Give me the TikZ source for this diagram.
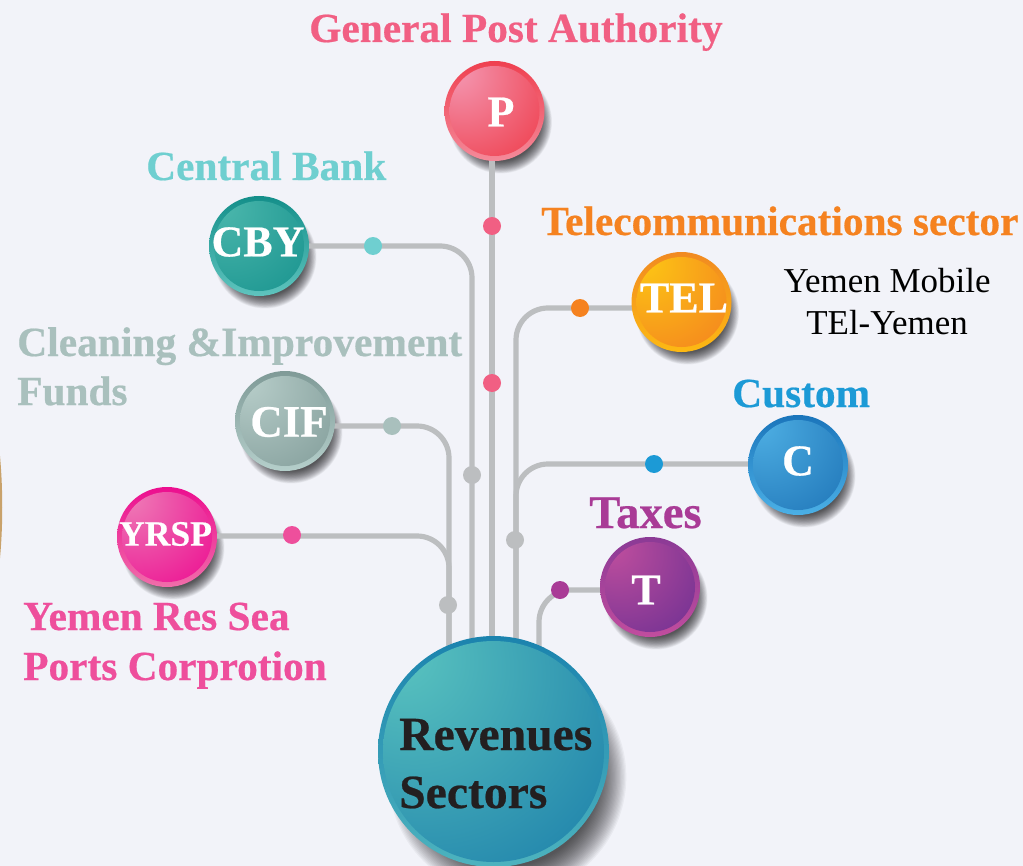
\documentclass[tikz,border=0pt]{standalone}
\usepackage{fontspec}
\setmainfont[BoldFeatures={FakeBold=0.5}]{Liberation Serif}
\usetikzlibrary{backgrounds}
\definecolor{bgc}{HTML}{F2F3F9}
\definecolor{linec}{HTML}{BCBEC0}
\definecolor{cpink}{HTML}{F15F83}
\definecolor{ccyan}{HTML}{6FCFD0}
\definecolor{corange}{HTML}{F58220}
\definecolor{cgrey}{HTML}{A9C0BD}
\definecolor{cblue}{HTML}{1C9AD6}
\definecolor{cpurple}{HTML}{A93B96}
\definecolor{cmag}{HTML}{EE4F9C}
\definecolor{ctext}{HTML}{231F20}
\definecolor{ctan}{HTML}{C9A26B}
\newcommand{\ballshade}[3]{%
  \definecolor{#1hi}{HTML}{#2}\definecolor{#1lo}{HTML}{#3}%
  \pgfdeclareradialshading{#1sh}{\pgfpoint{-23bp}{24bp}}{color(0bp)=(#1hi);color(58bp)=(#1lo);color(100bp)=(#1lo)}}
\ballshade{pp}{F49AB5}{EE3340}
\ballshade{tl}{FDC814}{F37B20}
\ballshade{cb}{4DB8AD}{14908C}
\ballshade{ci}{B9CFCB}{7E9996}
\ballshade{yr}{EE80B8}{EC008C}
\ballshade{cu}{4FB0E4}{1B70B4}
\ballshade{tx}{C24F9E}{662D91}
\ballshade{hb}{5CC6C0}{1577A8}
\tikzset{
  wire/.style={draw=linec,line width=3.9pt,rounded corners=24pt},
  junction/.style={circle,fill=#1,inner sep=0pt,minimum size=13.5pt},
  biglabel/.style={anchor=base west,inner sep=0pt,font=\bfseries\fontsize{31pt}{34pt}\selectfont},
  balltext/.style={text=white,inner sep=0pt,font=\bfseries\fontsize{#1}{#1}\selectfont},
  plainlabel/.style={inner sep=0pt,anchor=base,font=\fontsize{26.2pt}{28pt}\selectfont}
}
% \ballat{name}{x}{y}{radius}{ring top}{ring bottom}{shading}
\newcommand{\ballat}[7]{%
  \begin{pgfonlayer}{background}
    \foreach \k in {0,...,23}{
      \fill[black,opacity=0.038] ({#2+0.12*#4},{#3+0.22*#4}) circle ({#4*(1.03-0.011*\k)});
    }
  \end{pgfonlayer}
  \definecolor{rt}{HTML}{#5}\definecolor{rb}{HTML}{#6}
  \node[circle,inner sep=0pt,minimum size=2*#4*0.75pt,top color=rt,bottom color=rb] (#1) at (#2,#3) {};
  \shade[shading=#7sh] (#1.center) circle ({#4-5});
}
\begin{document}
\begin{tikzpicture}[x=0.75pt,y=-0.75pt,line cap=butt]
\useasboundingbox (0,0) rectangle (1023,866);
\begin{pgfonlayer}{background}
\fill[bgc] (0,0) rectangle (1023,866);
\fill[ctan] (0,456) .. controls (3,490) and (3,525) .. (0,558) -- cycle;
\end{pgfonlayer}

\ballat{hub}{493.5}{751.5}{115.5}{1B83AE}{4DB3BE}{hb}
\ballat{pb}{494.5}{111}{50}{EF4050}{F48A9A}{pp}
\ballat{cby}{259}{246}{50}{148F8A}{5FC4BE}{cb}
\ballat{tel}{681.5}{302}{50}{F18A21}{FDB913}{tl}
\ballat{cif}{285}{421}{50}{7F9A97}{B5CFCB}{ci}
\ballat{cus}{798}{465}{50}{1B75BB}{4BB0E6}{cu}
\ballat{tax}{650}{587}{50}{8B3A96}{C14D9E}{tx}
\ballat{yrs}{167}{537}{50}{EC0E8F}{F06EAA}{yr}

\node[balltext=33pt] (lp) at (501,112) {P};
\node[balltext=33pt] (lcby) at (258,242) {CBY};
\node[balltext=33pt] (ltel) at (684,298) {TEL};
\node[balltext=33.7pt] (lcif) at (289,422) {CIF};
\node[balltext=33pt] (lc) at (798,461) {C};
\node[balltext=33pt] (lt) at (646,590) {T};
\node[balltext=26.7pt] (lyr) at (165.5,534) {YRSP};

\node[biglabel,text=cpink] (t1) at (309,42) {General Post Authority};
\node[biglabel,text=ccyan] (t2) at (146,180) {Central Bank};
\node[biglabel,text=corange] (t3) at (541,235) {Telecommunications sector};
\node[plainlabel] (t4) at (887,292) {Yemen Mobile};
\node[plainlabel] (t5) at (887,334) {TEl-Yemen};
\node[biglabel,text=cgrey,font=\bfseries\fontsize{31.1pt}{34pt}\selectfont] (t6) at (17,356) {Cleaning \&Improvement};
\node[biglabel,text=cgrey] (t7) at (17,405) {Funds};
\node[biglabel,text=cblue] (t8) at (732,407) {Custom};
\node[biglabel,text=cpurple,font=\bfseries\fontsize{35pt}{36pt}\selectfont] (t9) at (589,528) {Taxes};
\node[biglabel,text=cmag] (t10) at (23,630) {Yemen Res Sea};
\node[biglabel,text=cmag] (t11) at (23,680) {Ports Corprotion};
\node[biglabel,text=ctext,font=\bfseries\fontsize{35.7pt}{38pt}\selectfont] (t12) at (399,750) {Revenues};
\node[biglabel,text=ctext,font=\bfseries\fontsize{35.7pt}{38pt}\selectfont] (t13) at (399,808) {Sectors};

\begin{pgfonlayer}{background}
  \draw[wire] (492,0 |- pb.center) -- (492,0 |- hub.center);
  \draw[wire] (cby.center) -- (472,246) -- (472,0 |- hub.center);
  \draw[wire] (cif.center |- 0,426) -- (449,426) -- (449,0 |- hub.center);
  \draw[wire] (yrs.center |- 0,536) -- (449,536) -- (449,0 |- hub.center);
  \draw[wire] (tel.center |- 0,308) -- (516,308) -- (516,0 |- hub.center);
  \draw[wire] (cus.center |- 0,464) -- (516,464) -- (516,0 |- hub.center);
  \draw[wire] (tax.center |- 0,590) -- (539,590) -- (539,0 |- hub.center);
\end{pgfonlayer}
\node[junction=cpink] (d1) at (492,226) {};
\node[junction=cpink] (d2) at (492,383) {};
\node[junction=ccyan] (d3) at (373,246) {};
\node[junction=linec] (d4) at (472,475) {};
\node[junction=cgrey] (d5) at (392,426) {};
\node[junction=linec] (d6) at (448,605) {};
\node[junction=cmag] (d7) at (292,535) {};
\node[junction=corange] (d8) at (580,308) {};
\node[junction=cblue] (d9) at (654,464) {};
\node[junction=linec] (d10) at (515,540) {};
\node[junction=cpurple] (d11) at (560,590) {};
\end{tikzpicture}
\end{document}
